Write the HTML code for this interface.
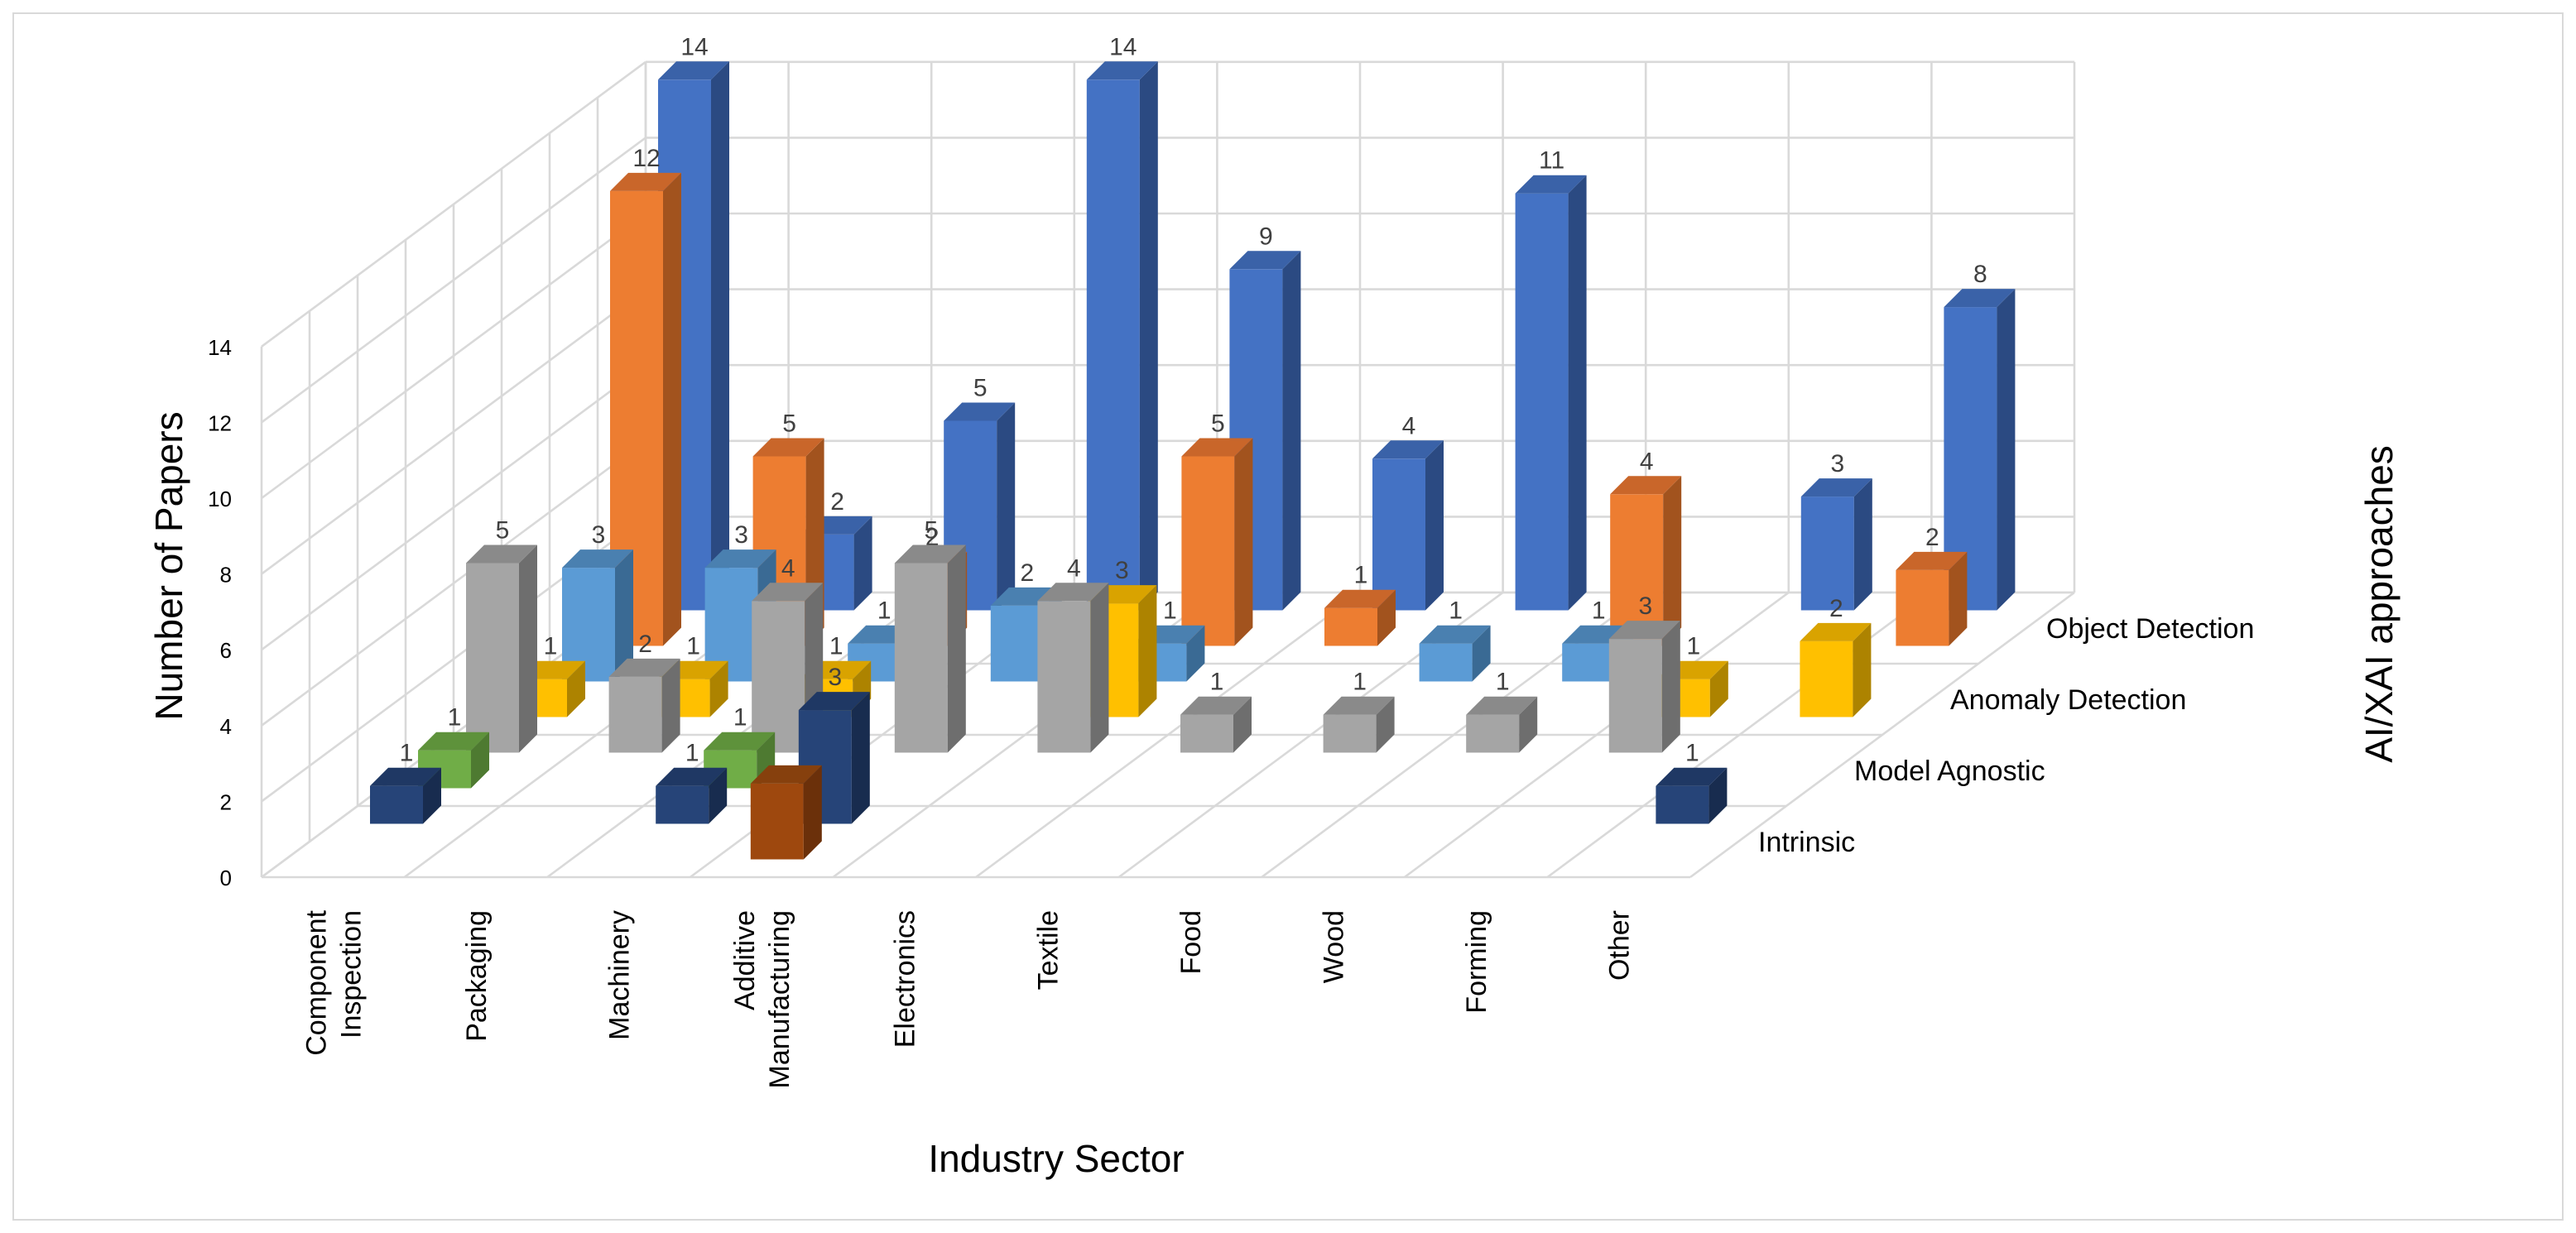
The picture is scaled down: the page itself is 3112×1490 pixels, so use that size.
<!DOCTYPE html>
<html><head><meta charset="utf-8"><style>
html,body{margin:0;padding:0;background:#fff}
svg{display:block}
text{font-family:"Liberation Sans",sans-serif}
</style></head><body>
<svg id="chart" width="3112" height="1490" viewBox="0 0 1556 745" xmlns="http://www.w3.org/2000/svg">
<rect x="8" y="8" width="1540" height="729" fill="#fff" stroke="#d9d9d9" stroke-width="1"/>
<g id="grid"></g>
<g id="bars"></g>
<g id="axes"></g>
<text transform="translate(110,342) rotate(-90)" text-anchor="middle" font-size="23" fill="#000">Number of Papers</text>
<text transform="translate(1445,365) rotate(-90)" text-anchor="middle" font-size="23" fill="#000">AI/XAI approaches</text>
<text x="638" y="708" text-anchor="middle" font-size="23" fill="#000">Industry Sector</text>
</svg>
<script>
const categories = ["Component|Inspection","Packaging","Machinery","Additive|Manufacturing","Electronics","Textile","Food","Wood","Forming","Other"];
const rows = ["Intrinsic","Model Agnostic","Anomaly Detection","Object Detection"];
const yTicks = [0,2,4,6,8,10,12,14];
// series by depth slot (0 = front)
const seriesBrown = [0,0,0,2,0,0,0,0,0,0];
const seriesNavy = [1,0,1,3,0,0,0,0,0,1];
const seriesGreen = [1,0,1,0,0,0,0,0,0,0];
const seriesGray = [5,2,4,5,4,1,1,1,3,0];
const seriesYellow = [1,1,1,0,3,0,0,0,1,2];
const seriesLightBlue = [3,3,1,2,1,0,1,1,0,0];
const seriesOrange = [12,5,2,0,5,1,0,4,0,2];
const seriesBlue = [14,2,5,14,9,4,11,0,3,8];
const hideLabel = {brown:true};

const S=[
 {n:'brown',v:seriesBrown,c:['#9E480E','#6B300A','#86400D']},
 {n:'navy',v:seriesNavy,c:['#264478','#182C4F','#1F3864']},
 {n:'green',v:seriesGreen,c:['#70AD47','#4E7A31','#5E923B']},
 {n:'gray',v:seriesGray,c:['#A5A5A5','#6E6E6E','#8A8A8A']},
 {n:'yellow',v:seriesYellow,c:['#FFC000','#AD8300','#D9A300']},
 {n:'lightblue',v:seriesLightBlue,c:['#5B9BD5','#3A6A94','#4A80B0']},
 {n:'orange',v:seriesOrange,c:['#ED7D31','#A2531E','#C9662A']},
 {n:'blue',v:seriesBlue,c:['#4472C4','#2B4A82','#3A62A8']}
];
const NS='http://www.w3.org/2000/svg';
const X0=158,Y0=530,H=22.9,CW=86.3,DX=232,DY=-172,SL=8,BW=32,OX=11,OY=-11;
function yv(v){return v*H;}
function depth(d){return [d*DX,d*DY];}
function mk(tag,attrs,parent){const e=document.createElementNS(NS,tag);for(const k in attrs)e.setAttribute(k,attrs[k]);parent.appendChild(e);return e;}
const gridG=document.getElementById('grid'),barsG=document.getElementById('bars'),axesG=document.getElementById('axes');
const gs={stroke:'#d9d9d9','stroke-width':1.3,fill:'none'};
const [bx,by]=depth(1);
const WW=categories.length*CW;
yTicks.forEach(t=>{
 let l=mk('line',Object.assign({x1:X0+bx,y1:Y0+by-yv(t),x2:X0+bx+WW,y2:Y0+by-yv(t)},gs),gridG);
 
 
 let l2=mk('line',Object.assign({x1:X0,y1:Y0-yv(t),x2:X0+bx,y2:Y0+by-yv(t)},gs),gridG);
 
 
});
const TOPV=yv(yTicks[yTicks.length-1]);
for(let i=0;i<=categories.length;i++){
 let l=mk('line',Object.assign({x1:X0+bx+i*CW,y1:Y0+by,x2:X0+bx+i*CW,y2:Y0+by-TOPV},gs),gridG);
 
 
 let f=mk('line',Object.assign({x1:X0+i*CW,y1:Y0,x2:X0+i*CW+bx,y2:Y0+by},gs),gridG);
 
 
}
for(let s=0;s<=SL;s++){
 const [dx,dy]=depth(s/SL);
 let l=mk('line',Object.assign({x1:X0+dx,y1:Y0+dy,x2:X0+dx,y2:Y0+dy-TOPV},gs),gridG);
 
 
 if(s%2===0){
  let f=mk('line',Object.assign({x1:X0+dx,y1:Y0+dy,x2:X0+dx+WW,y2:Y0+dy},gs),gridG);
  
  
 }
}
for(let s=S.length-1;s>=0;s--){
 const ser=S[s];
 const [dx,dy]=depth((s+0.5)/SL);
 ser.v.forEach((v,i)=>{
  if(!v)return;
  const x=X0+i*CW+22+dx, yb=Y0+dy, yt=yb-yv(v);
  const g=mk('g',{},barsG);
  
  
  mk('rect',{x:x,y:yt,width:BW,height:yb-yt,fill:ser.c[0]},g);
  mk('polygon',{points:`${x+BW},${yt} ${x+BW+OX},${yt+OY} ${x+BW+OX},${yb+OY} ${x+BW},${yb}`,fill:ser.c[1]},g);
  mk('polygon',{points:`${x},${yt} ${x+OX},${yt+OY} ${x+BW+OX},${yt+OY} ${x+BW},${yt}`,fill:ser.c[2]},g);
  if(!hideLabel[ser.n]){
   const t=mk('text',{x:x+BW/2+6,y:yt-15,'text-anchor':'middle','font-size':15,fill:'#404040'},g);
   t.textContent=v;
   
   
  }
 });
}
yTicks.forEach(t=>{
 const e=mk('text',{x:140,y:Y0-yv(t)+5,'text-anchor':'end','font-size':13,fill:'#000'},axesG);
 e.textContent=t;
 
 
});
categories.forEach((c,i)=>{
 const parts=c.split('|');
 const cx=X0+i*CW+CW/2;
 parts.forEach((p,k)=>{
  const off=(k-(parts.length-1)/2)*21;
  const e=mk('text',{transform:`translate(${cx+off+6},550) rotate(-90)`,'text-anchor':'end','font-size':17,fill:'#000'},axesG);
  e.textContent=p;
  
  
 });
});
rows.forEach((r,k)=>{
 const [dx,dy]=depth((2*k+1)/SL);
 const e=mk('text',{x:X0+WW+dx+12,y:Y0+dy+6,'font-size':17,fill:'#000'},axesG);
 e.textContent=r;
 
 
});
</script>
</body></html>
